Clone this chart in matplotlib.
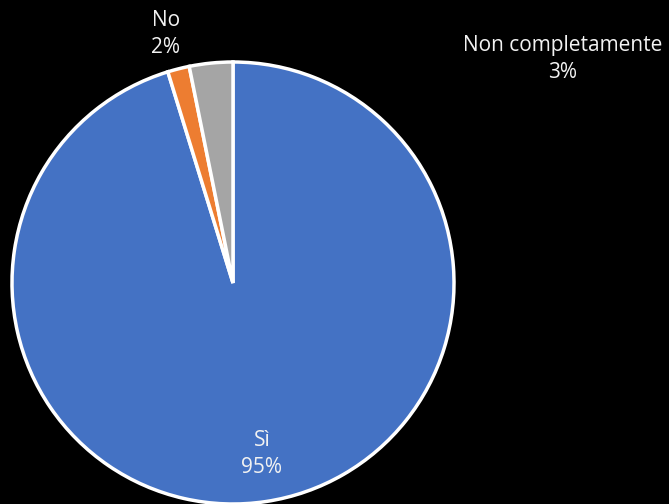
import matplotlib
matplotlib.use("Agg")
import matplotlib.pyplot as plt

# Data
categories = ["Sì", "No", "Non completamente"]
values = [60, 1, 2]
colors = ["#4472C4", "#ED7D31", "#A5A5A5"]

W, H = 669, 504
cx, cy, r = 233, 283, 221  # pie centre / radius in pixels

fig = plt.figure(figsize=(W / 100, H / 100), dpi=100, facecolor="black")
ax = fig.add_axes([0, 0, 1, 1])
ax.set_facecolor("black")

ax.pie(values, colors=colors, startangle=90, counterclock=False,
       wedgeprops=dict(edgecolor="white", linewidth=2.5))

# map the whole figure onto data units (radius 1 = r pixels)
ax.set_xlim(-cx / r, (W - cx) / r)
ax.set_ylim(-(H - cy) / r, cy / r)
ax.set_aspect("equal")
ax.axis("off")

total = sum(values)
pct = [round(v / total * 100) for v in values]


def px(x, y):
    return (x - cx) / r, (cy - y) / r


label_pos = [(262, 454), (166, 34), (563, 59)]
for cat, p, (x, y) in zip(categories, pct, label_pos):
    tx, ty = px(x, y)
    ax.text(tx, ty, f"{cat}\n{p}%", color="#F2F2F2", fontsize=15,
            family="Open Sans", ha="center", va="center", linespacing=1.32)

fig.savefig("out.png", dpi=100, facecolor="black")
